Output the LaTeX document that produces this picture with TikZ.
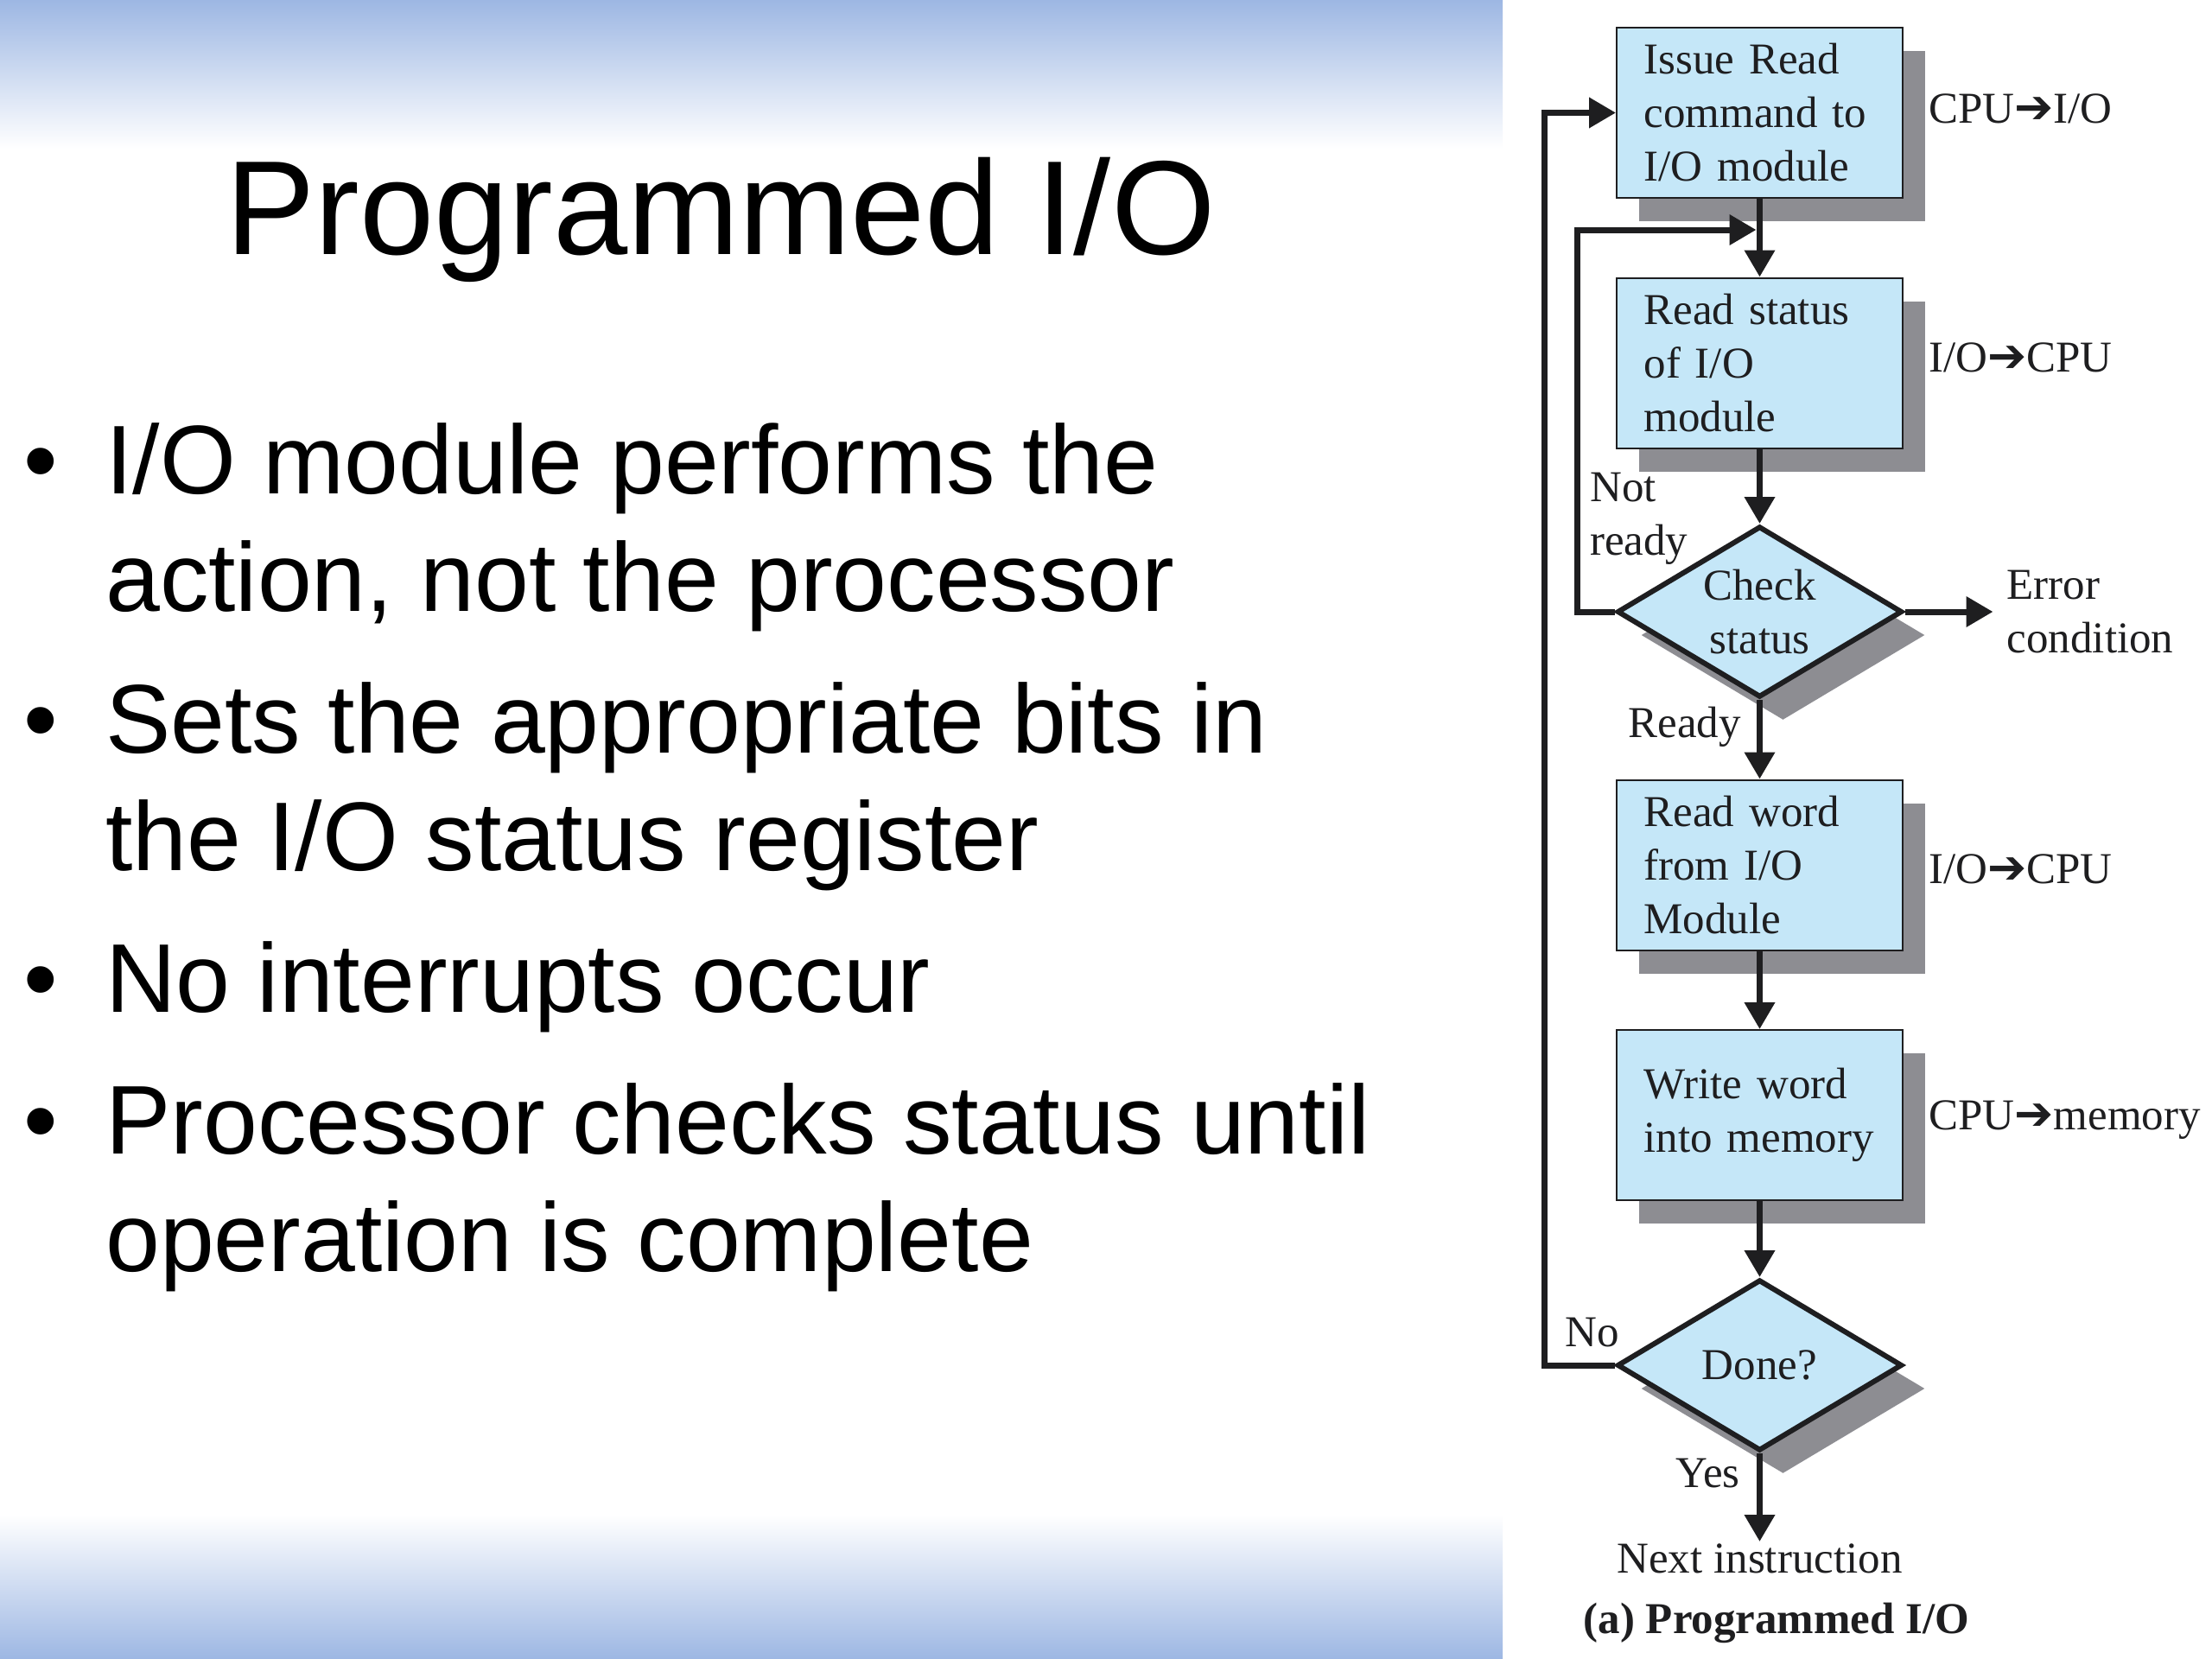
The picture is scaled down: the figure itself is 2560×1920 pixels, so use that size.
\documentclass[tikz,border=0pt]{standalone}
\usepackage{fontspec}
\setmainfont{Liberation Serif}
\newfontfamily\slidefont{Liberation Sans}
\newfontfamily\symfont{DejaVu Sans}
\usepackage{xcolor}
\usepackage{tikz}
\usetikzlibrary{positioning,shapes.geometric,shadows,arrows.meta}

\definecolor{slideblue}{RGB}{157,183,227}
\definecolor{boxblue}{RGB}{197,231,248}
\definecolor{shadegray}{RGB}{141,141,146}
\definecolor{inkdark}{RGB}{30,30,32}

\newcommand{\flowarrow}{{\symfont\fontsize{54}{54}\selectfont ➔}}

\begin{document}
\begin{tikzpicture}[x=1pt,y=-1pt,
    stepbox/.style={rectangle, draw=inkdark, line width=2pt, fill=boxblue, text=inkdark,
        text width=268pt, inner xsep=31.5pt, inner ysep=0pt, minimum width=331pt, minimum height=197pt,
        align=left, font=\fontsize{51}{62}\selectfont,
        drop shadow={shadow xshift=26pt, shadow yshift=-27pt, opacity=1, fill=shadegray}},
    testbox/.style={diamond, draw=inkdark, line width=6pt, fill=boxblue, text=inkdark,
        aspect=1.65, inner sep=0pt, minimum width=330pt, minimum height=198pt,
        align=center, font=\fontsize{51}{62}\selectfont,
        drop shadow={shadow xshift=27pt, shadow yshift=-27pt, opacity=1, fill=shadegray}},
    flow/.style={draw=inkdark, line width=7pt, -{Triangle[length=31pt,width=34pt]}},
    lbl/.style={text=inkdark, inner sep=0pt, align=left, font=\fontsize{51}{62}\selectfont},
    bullettext/.style={inner sep=0pt, align=left, anchor=base west, font=\slidefont\fontsize{113}{136}\selectfont}
]
    \useasboundingbox (0,0) rectangle (2560,1920);
    \fill[white] (0,0) rectangle (2560,1920);
    \shade[top color=slideblue, middle color=slideblue!45, bottom color=white] (0,0) rectangle (1739,172);
    \shade[top color=white, middle color=slideblue!45, bottom color=slideblue] (0,1753) rectangle (1739,1920);

    \node (title) [anchor=base, inner sep=0pt, font=\slidefont\fontsize{155}{186}\selectfont] at (834,294) {Programmed I/O};

    \node (dot1) [bullettext, anchor=base] at (47,571) {•};
    \node (item1) [bullettext] at (122,707) {I/O module performs the\\action, not the processor};
    \node (dot2) [bullettext, anchor=base] at (47,871) {•};
    \node (item2) [bullettext] at (122,1007) {Sets the appropriate bits in\\the I/O status register};
    \node (dot3) [bullettext, anchor=base] at (47,1171) {•};
    \node (item3) [bullettext] at (122,1171) {No interrupts occur};
    \node (dot4) [bullettext, anchor=base] at (47,1335) {•};
    \node (item4) [bullettext] at (122,1471) {Processor checks status until\\operation is complete};

    \node (issue) [stepbox] at (2036.5,130.5) {Issue Read\\command to\\I/O module};
    \node (readst) [stepbox] at (2036.5,420) {Read status\\of I/O\\module};
    \node (check) [testbox] at (2036.5,708) {Check\\status};
    \node (readwd) [stepbox] at (2036.5,1001) {Read word\\from I/O\\Module};
    \node (writewd) [stepbox] at (2036.5,1290.5) {Write word\\into memory};
    \node (done) [testbox] at (2036.5,1580) {Done?};

    \node (dir1) [lbl, anchor=base west] at (2232,142) {CPU\flowarrow I/O};
    \node (dir2) [lbl, anchor=base west] at (2232,430) {I/O\flowarrow CPU};
    \node (dir3) [lbl, anchor=base west] at (2232,1022) {I/O\flowarrow CPU};
    \node (dir4) [lbl, anchor=base west] at (2232,1307) {CPU\flowarrow memory};

    \coordinate (join) at ([yshift=-36pt]issue.south);
    \coordinate (errend) at ([xshift=102pt]check.east);
    \coordinate (nextend) at ([yshift=-102pt]done.south);

    \draw [flow] (issue) -- (readst);
    \draw [flow] (readst) -- (check);
    \draw [flow] (check) -- (readwd);
    \draw [flow] (readwd) -- (writewd);
    \draw [flow] (writewd) -- (done);
    \draw [flow] (check.east) -- (errend);
    \draw [flow] (check.west) -- ++(-43,0) |- ([xshift=-4pt]join);
    \draw [flow] (done.west) -- ++(-81,0) |- (issue.west);
    \draw [flow] (done.south) -- (nextend);

    \node (notready) [lbl, anchor=west] at (1840,600) {Not\\ready};
    \node (ready) [lbl, anchor=base east] at (2015,853) {Ready};
    \node (error) [lbl, anchor=west] at ([xshift=16pt]errend) {Error\\condition};
    \node (nolbl) [lbl, anchor=base west] at (1811,1558) {No};
    \node (yeslbl) [lbl, anchor=base east] at (2014,1721) {Yes};
    \node (nextins) [lbl, anchor=base] at (2036.5,1820) {Next instruction};
    \node (caption) [lbl, anchor=base, font=\bfseries\fontsize{51}{62}\selectfont] at (2056,1890) {(a) Programmed I/O};
\end{tikzpicture}
\end{document}
